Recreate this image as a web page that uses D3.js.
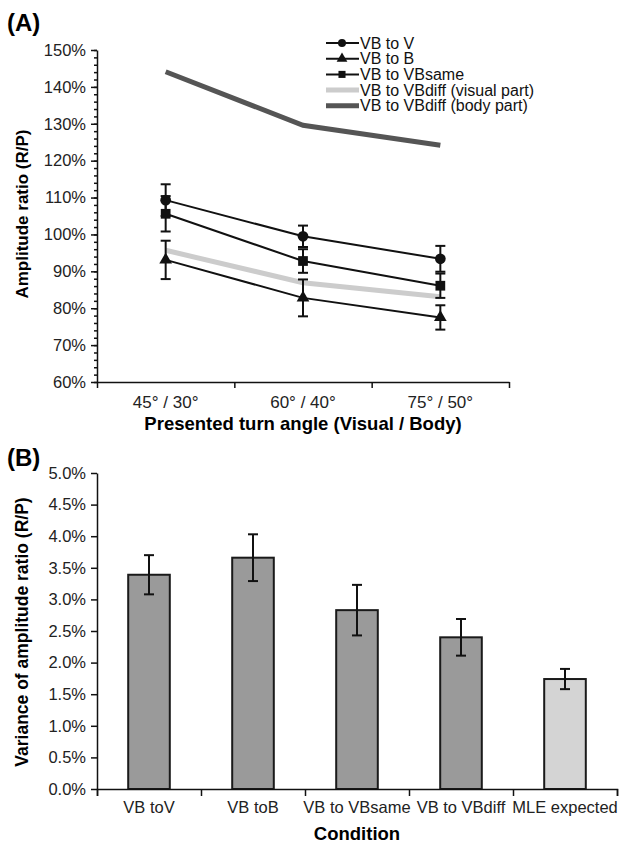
<!DOCTYPE html>
<html>
<head>
<meta charset="utf-8">
<script src="https://cdn.jsdelivr.net/npm/d3@7"></script>
<style>
  body { margin: 0; background: #fff; }
  svg { font-family: "Liberation Sans", Arial, Helvetica, sans-serif; }
  .axis path, .axis line { stroke: #111; stroke-width: 1.5px; }
  .axis text { font-size: 16.5px; fill: #222; }
</style>
</head>
<body>
<div id="chart"></div>
<script>
// Panel A data
var angles = ["45° / 30°", "60° / 40°", "75° / 50°"];
var vbToV = [1.093, 0.995, 0.934];
var vbToVErr = [0.043, 0.029, 0.035];
var vbToB = [0.931, 0.828, 0.775];
var vbToBErr = [0.052, 0.050, 0.033];
var vbToVBsame = [1.056, 0.928, 0.861];
var vbToVBsameErr = [0.048, 0.032, 0.033];
var vbDiffVisual = [0.957, 0.869, 0.831];
var vbDiffBody = [1.441, 1.296, 1.242];

// Panel B data
var conditions = ["VB toV", "VB toB", "VB to VBsame", "VB to VBdiff", "MLE expected"];
var variances = [0.0339, 0.0366, 0.0283, 0.0240, 0.0174];
var varianceErr = [0.0031, 0.0037, 0.0040, 0.0029, 0.0016];

var svg = d3.select("#chart").append("svg")
  .attr("width", 627)
  .attr("height", 847);

// ---------- Panel A ----------
var xA = d3.scaleBand().domain(angles).range([97, 509]).padding(0);
var yA = d3.scaleLinear().domain([0.6, 1.5]).range([382, 50]);
var xAc = d => xA(d) + xA.bandwidth() / 2;

// minor ticks every 2%
svg.append("g")
  .attr("class", "axis")
  .attr("transform", "translate(97,0)")
  .call(d3.axisLeft(yA).tickValues(d3.range(60, 151, 2).map(d => d / 100)).tickSize(3).tickFormat(""))
  .select(".domain").remove();

svg.append("g")
  .attr("class", "axis")
  .attr("transform", "translate(97,0)")
  .call(d3.axisLeft(yA).tickValues(d3.range(60, 151, 10).map(d => d / 100)).tickSize(6).tickSizeOuter(0).tickPadding(5).tickFormat(d3.format(".0%")));

// x axis line + ticks between categories
var xAedge = d3.scaleLinear().domain([0, 3]).range([97, 509]);
svg.append("g")
  .attr("class", "axis")
  .attr("transform", "translate(0,382)")
  .call(d3.axisBottom(xAedge).ticks(3).tickSize(6).tickSizeOuter(0).tickFormat(""));

var xAlabels = svg.append("g")
  .attr("class", "axis")
  .attr("transform", "translate(0,382)")
  .call(d3.axisBottom(xA).tickSize(0).tickPadding(14));
xAlabels.select(".domain").remove();
xAlabels.selectAll("text").style("font-size", "17px");

var lineA = d3.line().x((d, i) => xAc(angles[i])).y(d => yA(d));

svg.append("path").datum(vbDiffBody)
  .attr("d", lineA).attr("fill", "none").attr("stroke", "#555").attr("stroke-width", 5);
svg.append("path").datum(vbDiffVisual)
  .attr("d", lineA).attr("fill", "none").attr("stroke", "#ccc").attr("stroke-width", 5);

var blackSeries = [
  { vals: vbToV, err: vbToVErr, sym: d3.symbolCircle, size: 90 },
  { vals: vbToB, err: vbToBErr, sym: d3.symbolTriangle, size: 70 },
  { vals: vbToVBsame, err: vbToVBsameErr, sym: d3.symbolSquare, size: 95 }
];

blackSeries.forEach(function (s) {
  svg.append("path").datum(s.vals)
    .attr("d", lineA).attr("fill", "none").attr("stroke", "#111").attr("stroke-width", 2);

  var g = svg.append("g");
  s.vals.forEach(function (v, i) {
    var x = xAc(angles[i]);
    var y1 = yA(v + s.err[i]), y2 = yA(v - s.err[i]);
    g.append("line").attr("x1", x).attr("x2", x).attr("y1", y1).attr("y2", y2)
      .attr("stroke", "#111").attr("stroke-width", 2);
    [y1, y2].forEach(function (yy) {
      g.append("line").attr("x1", x - 5).attr("x2", x + 5).attr("y1", yy).attr("y2", yy)
        .attr("stroke", "#111").attr("stroke-width", 2);
    });
    g.append("path")
      .attr("d", d3.symbol().type(s.sym).size(s.size)())
      .attr("transform", `translate(${x},${yA(v)})`)
      .attr("fill", "#111");
  });
});

// legend
var legendItems = [
  { name: "VB to V", sym: d3.symbolCircle, color: "#111", w: 2 },
  { name: "VB to B", sym: d3.symbolTriangle, color: "#111", w: 2 },
  { name: "VB to VBsame", sym: d3.symbolSquare, color: "#111", w: 2 },
  { name: "VB to VBdiff (visual part)", sym: null, color: "#ccc", w: 5 },
  { name: "VB to VBdiff (body part)", sym: null, color: "#555", w: 5 }
];
var legend = svg.append("g");
legendItems.forEach(function (d, i) {
  var y = 43 + i * 15.7;
  legend.append("line").attr("x1", 326).attr("x2", 359).attr("y1", y).attr("y2", y)
    .attr("stroke", d.color).attr("stroke-width", d.w);
  if (d.sym) {
    legend.append("path").attr("d", d3.symbol().type(d.sym).size(50)())
      .attr("transform", `translate(342,${y})`).attr("fill", "#111");
  }
  legend.append("text").attr("x", 360).attr("y", y + 5.5)
    .attr("font-size", "16px").attr("fill", "#111").text(d.name);
});

svg.append("text").attr("x", 7).attr("y", 31)
  .attr("font-size", "24px").attr("font-weight", "bold").text("(A)");

svg.append("text")
  .attr("transform", "rotate(-90)")
  .attr("x", -214).attr("y", 28)
  .attr("text-anchor", "middle")
  .attr("font-size", "17px").attr("font-weight", "bold")
  .text("Amplitude ratio (R/P)");

svg.append("text")
  .attr("x", 303).attr("y", 430)
  .attr("text-anchor", "middle")
  .attr("font-size", "18.5px").attr("font-weight", "bold")
  .text("Presented turn angle (Visual / Body)");

// ---------- Panel B ----------
var xB = d3.scaleBand().domain(conditions).range([97, 617]).padding(0);
var yB = d3.scaleLinear().domain([0, 0.05]).range([789, 473]);
var barW = xB.bandwidth() * 0.4;

svg.append("g")
  .attr("class", "axis")
  .attr("transform", "translate(97,0)")
  .call(d3.axisLeft(yB).tickValues(d3.range(0, 11).map(d => d * 0.005)).tickSize(6).tickSizeOuter(0).tickPadding(5).tickFormat(d3.format(".1%")));

svg.selectAll(".bar")
  .data(variances)
  .enter()
  .append("rect")
  .attr("class", "bar")
  .attr("x", (d, i) => xB(conditions[i]) + (xB.bandwidth() - barW) / 2)
  .attr("y", d => yB(d))
  .attr("width", barW)
  .attr("height", d => yB(0) - yB(d))
  .attr("fill", (d, i) => i === 4 ? "#d4d4d4" : "#9a9a9a")
  .attr("stroke", "#1a1a1a")
  .attr("stroke-width", 2);

var errB = svg.append("g");
variances.forEach(function (v, i) {
  var x = xB(conditions[i]) + xB.bandwidth() / 2;
  var y1 = yB(v + varianceErr[i]), y2 = yB(v - varianceErr[i]);
  errB.append("line").attr("x1", x).attr("x2", x).attr("y1", y1).attr("y2", y2)
    .attr("stroke", "#111").attr("stroke-width", 2);
  [y1, y2].forEach(function (yy) {
    errB.append("line").attr("x1", x - 5).attr("x2", x + 5).attr("y1", yy).attr("y2", yy)
      .attr("stroke", "#111").attr("stroke-width", 2);
  });
});

var xBedge = d3.scaleLinear().domain([0, 5]).range([97, 617]);
svg.append("g")
  .attr("class", "axis")
  .attr("transform", "translate(0,789)")
  .call(d3.axisBottom(xBedge).ticks(5).tickSize(7).tickSizeOuter(7).tickFormat(""));

svg.append("g")
  .attr("class", "axis")
  .attr("transform", "translate(0,789)")
  .call(d3.axisBottom(xB).tickSize(0).tickPadding(12))
  .select(".domain").remove();

svg.append("text").attr("x", 7).attr("y", 466)
  .attr("font-size", "24px").attr("font-weight", "bold").text("(B)");

svg.append("text")
  .attr("transform", "rotate(-90)")
  .attr("x", -632).attr("y", 28)
  .attr("text-anchor", "middle")
  .attr("font-size", "17.5px").attr("font-weight", "bold")
  .text("Variance of amplitude ratio (R/P)");

svg.append("text")
  .attr("x", 357).attr("y", 840)
  .attr("text-anchor", "middle")
  .attr("font-size", "18.5px").attr("font-weight", "bold")
  .text("Condition");
</script>
</body>
</html>
